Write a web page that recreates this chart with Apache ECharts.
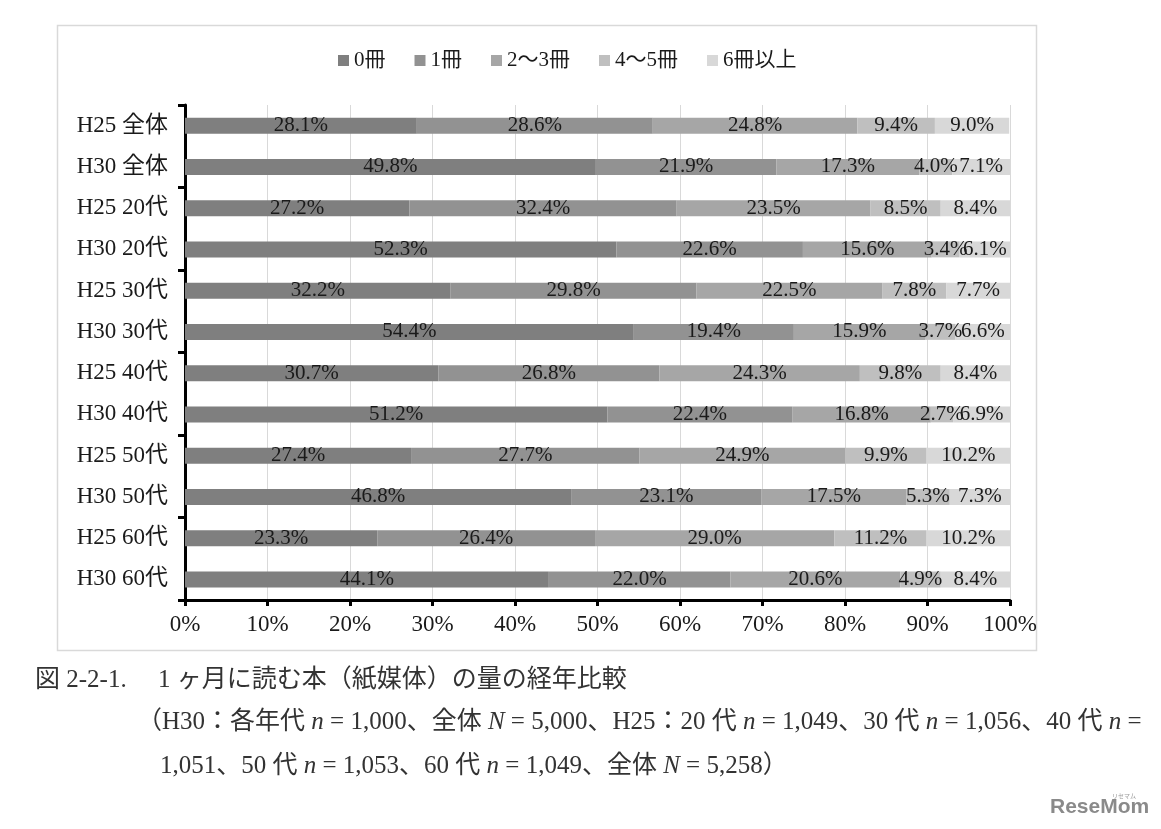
<!DOCTYPE html>
<html><head><meta charset="utf-8">
<script src="https://cdn.jsdelivr.net/npm/echarts@6/dist/echarts.min.js"></script>
<style>html,body{margin:0;padding:0;background:#fff}#c{width:1161px;height:829px}</style>
</head><body><div id="c"></div>
<script>
const categories = ['H25 全体','H30 全体','H25 20代','H30 20代','H25 30代','H30 30代','H25 40代','H30 40代','H25 50代','H30 50代','H25 60代','H30 60代'];
const seriesNames = ['0冊','1冊','2〜3冊','4〜5冊','6冊以上'];
const books0 = [28.1,49.8,27.2,52.3,32.2,54.4,30.7,51.2,27.4,46.8,23.3,44.1];
const books1 = [28.6,21.9,32.4,22.6,29.8,19.4,26.8,22.4,27.7,23.1,26.4,22.0];
const books2to3 = [24.8,17.3,23.5,15.6,22.5,15.9,24.3,16.8,24.9,17.5,29.0,20.6];
const books4to5 = [9.4,4.0,8.5,3.4,7.8,3.7,9.8,2.7,9.9,5.3,11.2,4.9];
const books6plus = [9.0,7.1,8.4,6.1,7.7,6.6,8.4,6.9,10.2,7.3,10.2,8.4];
const xTicks = [0,10,20,30,40,50,60,70,80,90,100];

const colors = ['#7f7f7f','#929292','#a6a6a6','#bfbfbf','#d8d8d8'];
const FONT = '"Liberation Serif","Noto Sans CJK JP",serif';
const allData = [books0,books1,books2to3,books4to5,books6plus];

const chart = echarts.init(document.getElementById('c'));
chart.setOption({
  animation:false,
  textStyle:{fontFamily:FONT},
  legend:{
    top:45, left:333, itemWidth:11, itemHeight:11, itemGap:29,
    icon:'rect',
    textStyle:{fontFamily:FONT,fontSize:21,color:'#1a1a1a'},
    data:seriesNames
  },
  grid:{left:185,right:151,top:105,bottom:229,containLabel:false},
  xAxis:{
    type:'value',min:xTicks[0],max:xTicks[xTicks.length-1],interval:10,
    axisLine:{show:true,lineStyle:{color:'#000',width:3}},
    axisTick:{show:true,length:6,lineStyle:{color:'#000',width:3}},
    axisLabel:{formatter:'{value}%',fontFamily:FONT,fontSize:23,color:'#1a1a1a',margin:13},
    splitLine:{show:true,lineStyle:{color:'#d9d9d9',width:1}}
  },
  yAxis:{
    type:'category',inverse:true,data:categories,
    axisLine:{show:true,lineStyle:{color:'#000',width:3}},
    axisTick:{show:true,interval:1,length:7,alignWithLabel:false,lineStyle:{color:'#000',width:3}},
    axisLabel:{fontFamily:FONT,fontSize:23,color:'#1a1a1a',margin:17},
    splitLine:{show:false}
  },
  series: seriesNames.map((n,i)=>({
    name:n,type:'bar',stack:'total',barWidth:16,
    itemStyle:{color:colors[i]},
    label:{show:true,position:'inside',formatter:p=>p.value.toFixed(1)+'%',
      fontFamily:FONT,fontSize:21,color:'#1a1a1a'},
    labelLayout:{hideOverlap:false},
    data:allData[i]
  })),
  graphic:[
    {type:'rect',z:-10,shape:{x:57.5,y:25.5,width:979,height:625},style:{fill:'none',stroke:'#d9d9d9',lineWidth:1.5}},
    {type:'text',left:35,top:668,style:{text:'図 2-2-1.　 1 ヶ月に読む本（紙媒体）の量の経年比較',font:'25px '+FONT,fill:'#333'}},
    {type:'text',left:137,top:710,style:{
      text:'（H30：各年代 {i|n} = 1,000、全体 {i|N} = 5,000、H25：20 代 {i|n} = 1,049、30 代 {i|n} = 1,056、40 代 {i|n} =',
      font:'25px '+FONT,fill:'#333',
      rich:{i:{fontStyle:'italic',fontFamily:FONT,fontSize:25,fill:'#333'}}}},
    {type:'text',left:160,top:754,style:{
      text:'1,051、50 代 {i|n} = 1,053、60 代 {i|n} = 1,049、全体 {i|N} = 5,258）',
      font:'25px '+FONT,fill:'#333',
      rich:{i:{fontStyle:'italic',fontFamily:FONT,fontSize:25,fill:'#333'}}}},
    {type:'text',left:1112,top:793,style:{text:'リセマム',font:'6px "Noto Sans CJK JP"',fill:'#999'}},
    {type:'text',left:1050,top:797,style:{text:'ReseMom',font:'bold 21px "Liberation Sans",sans-serif',fill:'#8a8a8a'}}
  ]
});
</script></body></html>
